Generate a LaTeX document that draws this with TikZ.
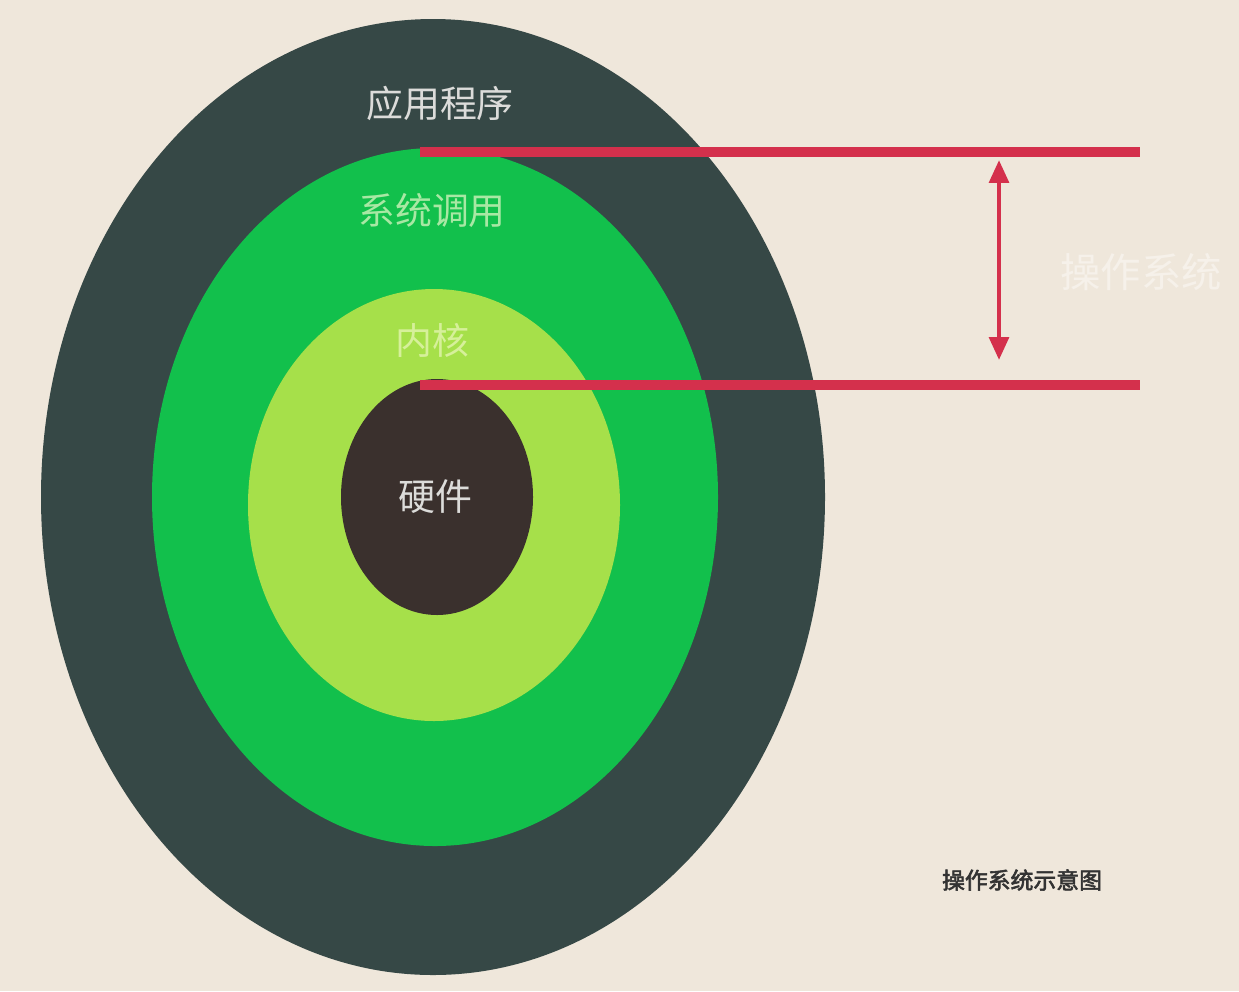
\documentclass[tikz,border=0pt]{standalone}
\usepackage{fontspec}
\newfontfamily\cjk[AutoFakeBold=2.5]{Noto Sans CJK SC}
\usetikzlibrary{arrows.meta,shapes.geometric}
\definecolor{bg}{HTML}{EFE7DB}
\definecolor{outer}{HTML}{364846}
\definecolor{midg}{HTML}{12C04C}
\definecolor{lightg}{HTML}{A6E04A}
\definecolor{core}{HTML}{3A302D}
\definecolor{redl}{HTML}{D4304C}
\definecolor{txtgray}{HTML}{DCDCDA}
\definecolor{txtgreen}{HTML}{A8E8A4}
\definecolor{txtyel}{HTML}{D6F09A}
\definecolor{txtwhite}{HTML}{F6F1EA}
\definecolor{txtdark}{HTML}{333333}
\tikzset{
  ring/.style={ellipse, draw=none, inner sep=0pt},
  lbl/.style={font=\cjk\fontsize{21}{24}\selectfont, inner sep=0pt},
  redbar/.style={draw=redl, line width=5.6pt},
  dim/.style={draw=redl, line width=2.6pt, {Triangle[width=11pt,length=13pt]}-{Triangle[width=11pt,length=13pt]}}
}
\begin{document}
\begin{tikzpicture}[x=0.02cm,y=-0.02cm]
\fill[bg] (0,0) rectangle (1239,991);
\useasboundingbox (0,0) rectangle (1239,991);
\node[ring, fill=outer, minimum width=784*0.02cm, minimum height=956*0.02cm] (o) at (433,497) {};
\node[ring, fill=midg, minimum width=566*0.02cm, minimum height=698*0.02cm] (m) at (435,497) {};
\node[ring, fill=lightg, minimum width=372*0.02cm, minimum height=432*0.02cm] (k) at (434,505) {};
\node[ring, fill=core, minimum width=192*0.02cm, minimum height=236*0.02cm] (h) at (437,497) {};
\node[lbl, text=txtgray] (t1) at (440,103) {应用程序};
\node[lbl, text=txtgreen] (t2) at (432,210) {系统调用};
\node[lbl, text=txtyel] (t3) at (432,340) {内核};
\node[lbl, text=txtgray] (t4) at (435,497) {硬件};
\node[font=\cjk\fontsize{23}{26}\selectfont, text=txtwhite, inner sep=0pt] (os) at (1141,272) {操作系统};
\node[font=\cjk\bfseries\fontsize{13}{16}\selectfont, text=txtdark, inner sep=0pt] (cap) at (1022,880) {操作系统示意图};
\coordinate (a1) at (420,152);
\coordinate (a2) at (1140,152);
\coordinate (b1) at (420,385);
\coordinate (b2) at (1140,385);
\coordinate (d1) at (999,160);
\coordinate (d2) at (999,360);
\draw[redbar] (a1) -- (a2);
\draw[redbar] (b1) -- (b2);
\draw[dim] (d1) -- (d2);
\end{tikzpicture}
\end{document}
